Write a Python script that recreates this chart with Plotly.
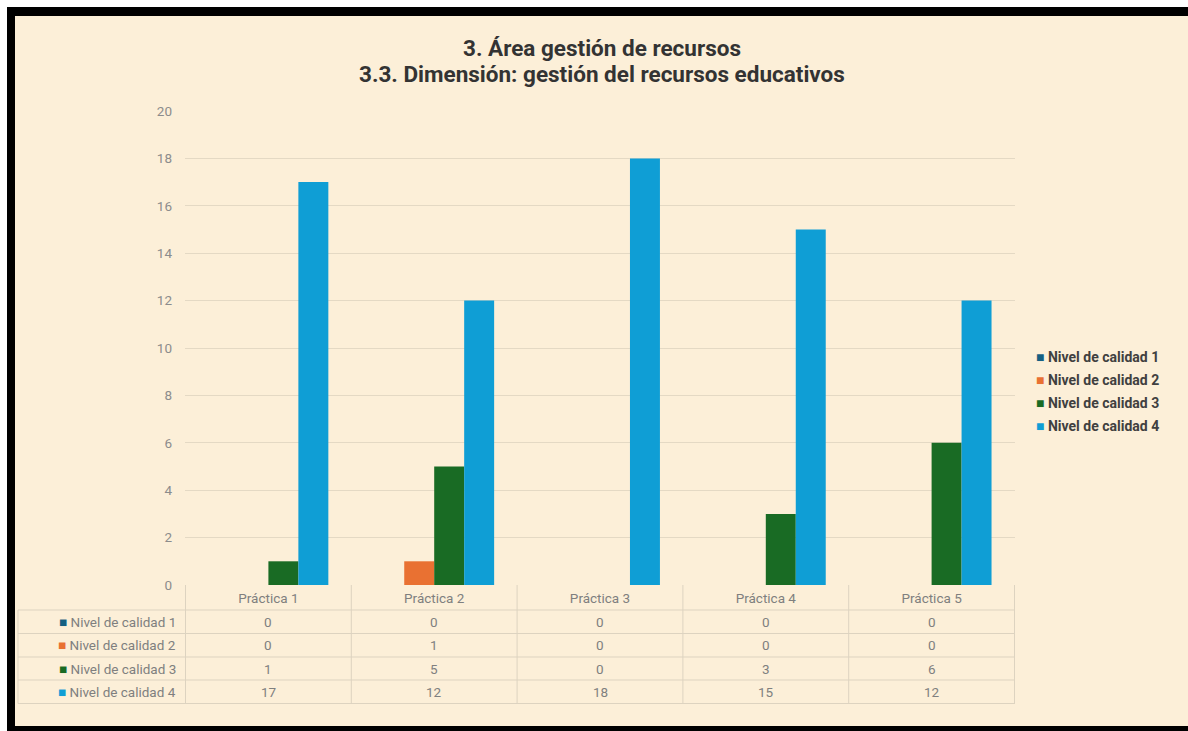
import plotly.graph_objects as go

# ---- data ----
categories = ["Práctica 1", "Práctica 2", "Práctica 3", "Práctica 4", "Práctica 5"]
series_names = ["Nivel de calidad 1", "Nivel de calidad 2", "Nivel de calidad 3", "Nivel de calidad 4"]
nivel_1 = [0, 0, 0, 0, 0]
nivel_2 = [0, 1, 0, 0, 0]
nivel_3 = [1, 5, 0, 3, 6]
nivel_4 = [17, 12, 18, 15, 12]
series_values = [nivel_1, nivel_2, nivel_3, nivel_4]
y_ticks = [0, 2, 4, 6, 8, 10, 12, 14, 16, 18, 20]
title_lines = ["3. Área gestión de recursos", "3.3. Dimensión: gestión del recursos educativos"]

# ---- style ----
series_colors = ["#156082", "#E97132", "#196B24", "#0F9ED5"]
BG = "#FCEFD8"
GRID = "#E4D9C4"
TABLE_LINE = "#DDD3C0"
GREY_TEXT = "#7F7F7F"
FONT = "Roboto"
TABLE_SIZE = 13.5

W, H = 1188, 731
L, R, T, B = 185, 1015, 111, 585   # plot area in pixels


def xp(px):
    return (px - L) / (R - L)


def yp(py):
    return (B - py) / (B - T)


fig = go.Figure()
for name, vals, col in zip(series_names, series_values, series_colors):
    fig.add_trace(go.Bar(x=categories, y=vals, name=name, marker_color=col,
                         marker_line_width=0, showlegend=False))

shapes = []
# outer black frame and parchment sheet
shapes.append(dict(type="rect", xref="paper", yref="paper", layer="below",
                   x0=xp(7), x1=xp(W + 2), y0=yp(H + 2), y1=yp(7),
                   fillcolor="black", line_width=0))
shapes.append(dict(type="rect", xref="paper", yref="paper", layer="below",
                   x0=xp(15), x1=xp(W + 2), y0=yp(726), y1=yp(16),
                   fillcolor=BG, line_width=0))

# data table grid under the chart
row_lines = [610, 633.5, 657, 680, 703.5]
row_centers = [621.7, 645, 668.5, 692]
for py in row_lines:
    shapes.append(dict(type="line", xref="paper", yref="paper", layer="below",
                       x0=xp(18), x1=1, y0=yp(py), y1=yp(py),
                       line=dict(color=TABLE_LINE, width=1)))
for i in range(len(categories) + 1):
    shapes.append(dict(type="line", xref="x", yref="paper", layer="below",
                       x0=i - 0.5, x1=i - 0.5, y0=yp(row_lines[-1]), y1=0,
                       line=dict(color=TABLE_LINE, width=1)))
shapes.append(dict(type="line", xref="paper", yref="paper", layer="below",
                   x0=xp(18), x1=xp(18), y0=yp(row_lines[-1]), y1=yp(row_lines[0]),
                   line=dict(color=TABLE_LINE, width=1)))

annotations = []
# titles
for text, py in zip(title_lines, [48, 74]):
    annotations.append(dict(text=f"<b>{text}</b>", xref="paper", yref="paper",
                            x=xp(602), y=yp(py), xanchor="center", yanchor="middle",
                            showarrow=False, font=dict(family=FONT, size=22.5, color="#333333")))

# table row labels and values
for name, vals, col, py in zip(series_names, series_values, series_colors, row_centers):
    annotations.append(dict(text=f"<span style='color:{col}'>■</span> {name}",
                            xref="paper", yref="paper", x=xp(178), y=yp(py),
                            xanchor="right", yanchor="middle", showarrow=False,
                            font=dict(family=FONT, size=TABLE_SIZE, color=GREY_TEXT)))
    for cat, v in zip(categories, vals):
        annotations.append(dict(text=str(v), xref="x", yref="paper", x=cat, y=yp(py),
                                xanchor="center", yanchor="middle", showarrow=False,
                                font=dict(family=FONT, size=TABLE_SIZE, color=GREY_TEXT)))

# legend on the right
legend_y = [357, 380, 403, 426]
for name, col, py in zip(series_names, series_colors, legend_y):
    annotations.append(dict(text=f"<span style='color:{col}'>■</span> <b>{name}</b>",
                            xref="paper", yref="paper", x=xp(1034), y=yp(py),
                            xanchor="left", yanchor="middle", showarrow=False,
                            font=dict(family=FONT, size=14, color="#404040")))

fig.update_layout(
    width=W, height=H, autosize=False,
    margin=dict(l=L, r=W - R, t=T, b=H - B, pad=0),
    paper_bgcolor="white", plot_bgcolor="rgba(0,0,0,0)",
    barmode="group", bargap=0.277, bargroupgap=0,
    font=dict(family=FONT, color=GREY_TEXT),
    shapes=shapes, annotations=annotations,
    showlegend=False,
    xaxis=dict(type="category", showgrid=False, zeroline=False, showline=False,
               ticks="", ticklabelstandoff=3,
               tickfont=dict(family=FONT, size=TABLE_SIZE, color=GREY_TEXT), fixedrange=True),
    yaxis=dict(range=[0, 20], tickvals=y_ticks, showgrid=True, gridcolor=GRID, gridwidth=1,
               zeroline=False, showline=False, ticks="", ticklabelstandoff=12,
               tickfont=dict(family=FONT, size=13.5, color="#8C8C8C"), fixedrange=True),
)

fig.write_html("out.html")
